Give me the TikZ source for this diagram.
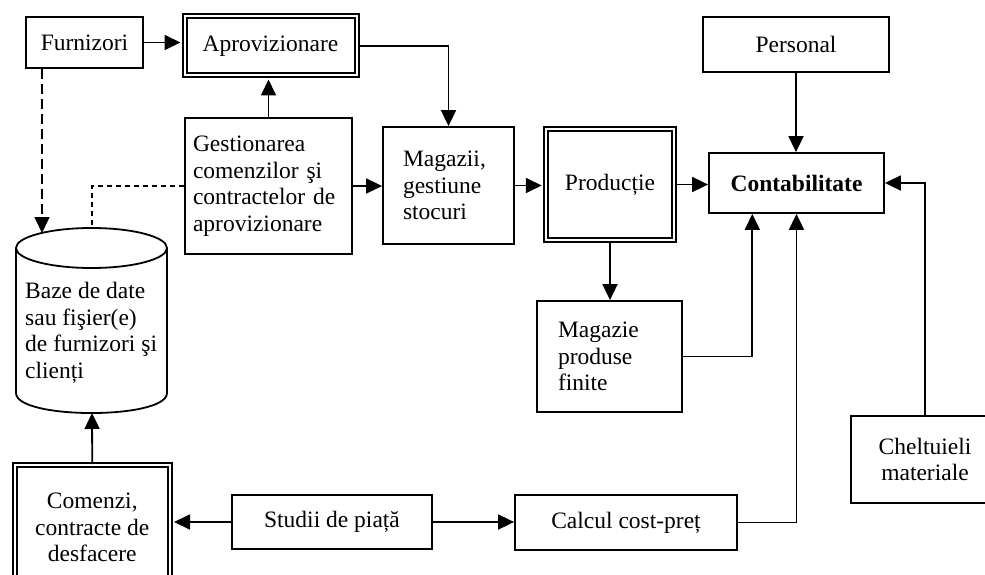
\documentclass[tikz,border=0pt]{standalone}
\usepackage{fontspec}
\setmainfont{Liberation Serif}
\usetikzlibrary{arrows.meta,calc}
\begin{document}
\begin{tikzpicture}[x=1pt,y=-1pt,
  every node/.style={font=\fontsize{23.5}{26.5}\selectfont, inner sep=0pt},
  box/.style={draw, rectangle, line width=1.8pt},
  dbox/.style={draw, rectangle, line width=2pt, double, double distance=2pt},
  lefttext/.style={align=left, text width=#1},
  tip/.style={-{Triangle[length=16pt,width=15pt]}},
  arr/.style={line width=1.8pt, tip},
  plain/.style={line width=1.8pt},
  dasharr/.style={line width=1.6pt, dash pattern=on 10pt off 5pt, tip},
  dashline/.style={line width=1.6pt, dash pattern=on 5pt off 4pt}
]
\clip (0,0) rectangle (985,575);

% boxes of the supply chain
\node[box, minimum width=117pt, minimum height=51pt] (furn) at (84.5,42.5) {Furnizori};
\node[dbox, minimum width=172pt, minimum height=59pt] (aprov) at (270.5,46) {Aprovizionare};
\node[box, minimum width=167pt, minimum height=136pt, lefttext=151pt] (gest) at (268.5,186)
  {Gestionarea\\comenzilor şi\\contractelor de\\aprovizionare};
\node[box, minimum width=131pt, minimum height=117pt, lefttext=91pt] (mag) at (448.5,185.5)
  {Magazii,\\gestiune\\stocuri};
\node[dbox, minimum width=128.5pt, minimum height=110pt] (prod) at (610,184.5) {Producție};
\node[box, minimum width=145pt, minimum height=111pt, lefttext=103pt] (mpf) at (609.5,356.5)
  {Magazie\\produse\\finite};
\node[box, minimum width=186pt, minimum height=55pt] (pers) at (796,44.5) {Personal};
\node[box, minimum width=175pt, minimum height=60pt] (cont) at (796.5,183) {\bfseries Contabilitate};
\node[box, minimum width=148pt, minimum height=87pt, align=center] (chel) at (925,459.5)
  {Cheltuieli\\materiale};
\node[box, minimum width=200pt, minimum height=54pt] (stud) at (332,522) {Studii de piață};
\node[box, minimum width=222pt, minimum height=55pt] (calc) at (626,522.5) {Calcul cost-preț};
\node[dbox, minimum width=155.5pt, minimum height=125pt, align=center] (com) at (92.25,527.5)
  {Comenzi,\\contracte de\\desfacere};

% database cylinder
\draw[plain] (91.5,248) ellipse [x radius=75.5, y radius=20];
\draw[plain] (16,248) -- (16,393) .. controls (16,419.7) and (167,419.7) .. (167,393) -- (167,248);
\node[anchor=west, align=left] (db) at (25,333)
  {Baze de date\\sau fişier(e)\\de furnizori şi\\clienți};
\coordinate (dbtopA) at (42,233);
\coordinate (dbtopB) at (92,228);
\coordinate (dbbot) at (92,413);

% connectors
\draw[arr, shorten >=3pt] (furn.east) -- (furn.east -| aprov.west);
\draw[arr, shorten >=3pt] (gest.north) -- (gest.north |- aprov.south);
\draw[arr] (aprov.east) -| (mag.north);
\draw[arr] (gest.east) -- (gest.east -| mag.west);
\draw[arr, shorten >=3pt] (mag.east) -- (mag.east -| prod.west);
\draw[arr] (prod.east) -- (prod.east -| cont.west);
\draw[arr] (prod.south) -- (prod.south |- mpf.north);
\draw[arr] (pers.south) -- (pers.south |- cont.north);
\draw[arr] (mpf.east) -| ($(cont.south west)!0.25!(cont.south east)$);
\draw[arr] (calc.east) -| (cont.south);
\draw[arr] (chel.north) |- (cont.east);
\draw[arr, shorten >=3pt] (stud.west) -- (stud.west -| com.east);
\draw[arr] (stud.east) -- (stud.east -| calc.west);
\draw[arr] (com.north) -- (dbbot);
\draw[dasharr] (dbtopA |- furn.south) -- (dbtopA);
\draw[dashline] (gest.west) -| (dbtopB);
\end{tikzpicture}
\end{document}
